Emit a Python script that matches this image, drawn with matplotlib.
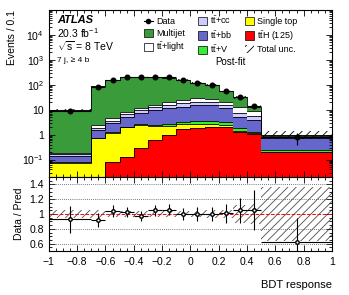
import numpy as np
import matplotlib
matplotlib.use("Agg")
import matplotlib.pyplot as plt
from matplotlib.patches import Patch
from matplotlib.lines import Line2D
from matplotlib.ticker import FixedLocator, MultipleLocator, LogLocator, NullFormatter

plt.rcParams['font.family'] = ['Liberation Sans', 'DejaVu Sans']
plt.rcParams['mathtext.fontset'] = 'custom'
plt.rcParams['mathtext.rm'] = 'Liberation Sans'
plt.rcParams['mathtext.it'] = 'Liberation Sans:italic'
plt.rcParams['mathtext.bf'] = 'Liberation Sans:bold'
plt.rcParams['mathtext.default'] = 'regular'
plt.rcParams['hatch.linewidth'] = 0.6

# BDT bins (events normalised per 0.1)
EDGES = [-1.0, -0.7, -0.6, -0.5, -0.4, -0.3, -0.2, -0.1, 0.0, 0.1, 0.2, 0.3, 0.4, 0.5, 1.0]

# stacked backgrounds, bottom to top
TTH      = [0.005, 0.01, 0.08, 0.13, 0.3, 0.6, 0.95, 1.7, 1.85, 2.0, 2.0, 1.3, 1.1, 0.2]
SINGLE_T = [0.07, 0.71, 1.12, 1.87, 2.2, 1.7, 1.35, 1.0, 0.95, 0.8, 0.4, 0.15, 0.05, 0.005]
TTV      = [0.005, 0.02, 0.05, 0.1, 0.1, 0.15, 0.3, 0.4, 0.6, 0.6, 0.8, 0.35, 0.1, 0.035]
TTBB     = [0.06, 0.76, 1.6, 3.1, 4.6, 7.25, 9.4, 10.1, 12.1, 11.6, 8.2, 3.4, 2.65, 0.5]
TTCC     = [0.02, 0.3, 0.75, 1.3, 2.3, 2.8, 3.5, 4.8, 5.5, 5.0, 3.6, 2.3, 1.6, 0.06]
TTLIGHT  = [0.02, 0.6, 1.1, 1.8, 2.5, 3.0, 4.5, 6.6, 8.0, 8.0, 5.0, 5.5, 3.0, 0.08]
MULTIJET = [9.6, 84.6, 146, 189, 196, 188, 171, 133, 93, 71, 37, 18, 4.8, 0.12]

DATA     = [9.1, 80, 158, 203, 203, 214, 203, 158, 122, 99, 58, 33, 14, 0.8]
DATA_ERR = [1.75, 9.0, 12.6, 14.2, 14.2, 14.6, 14.2, 12.6, 11.0, 10.0, 7.6, 5.7, 3.7, 0.4]

RATIO     = [0.93, 0.92, 1.045, 1.03, 0.975, 1.05, 1.06, 1.0, 1.0, 1.0, 1.01, 1.05, 1.05, 0.62]
RATIO_ERR = [0.18, 0.10, 0.08, 0.07, 0.07, 0.07, 0.07, 0.08, 0.09, 0.10, 0.13, 0.17, 0.27, 0.33]
TOT_UNC   = [0.05, 0.05, 0.04, 0.04, 0.04, 0.04, 0.04, 0.04, 0.04, 0.05, 0.06, 0.12, 0.13, 0.36]

edges = np.array(EDGES)
centers = 0.5 * (edges[1:] + edges[:-1])
widths = edges[1:] - edges[:-1]

components = [
    (TTH, "#ff0000", r"$t\bar{t}H$ (125)"),
    (SINGLE_T, "#ffff00", "Single top"),
    (TTV, "#33ee33", r"$t\bar{t}$+V"),
    (TTBB, "#6666cc", r"$t\bar{t}$+bb"),
    (TTCC, "#ccccff", r"$t\bar{t}$+cc"),
    (TTLIGHT, "#ffffff", r"$t\bar{t}$+light"),
    (MULTIJET, "#3a9b3a", "Multijet"),
]

fig = plt.figure(figsize=(3.49, 2.95), dpi=100)
ax = fig.add_axes([0.140, 0.400, 0.811, 0.566])
rax = fig.add_axes([0.140, 0.149, 0.811, 0.251])

cum = np.full(len(centers), 1e-3)
for vals, color, _ in components:
    top = cum + np.array(vals)
    ax.stairs(top, edges, baseline=cum, fill=True, color=color, lw=0)
    ax.stairs(top, edges, baseline=None, color="k", lw=0.6)
    cum = top
total = cum

unc = np.array(TOT_UNC)
ax.bar(centers, 2 * unc * total, bottom=total * (1 - unc), width=widths,
       fill=False, hatch="////", lw=0, edgecolor="k")
ax.errorbar(centers, DATA, yerr=DATA_ERR, xerr=widths / 2, fmt="o", color="k",
            ms=3.3, lw=0.8, capsize=0, zorder=5)

ax.set_yscale("log")
ax.set_xlim(-1, 1)
ax.set_ylim(0.02, 1e5)
ax.yaxis.set_major_locator(FixedLocator([0.1, 1, 10, 100, 1e3, 1e4]))
ax.set_yticklabels([r"$10^{-1}$", "1", "10", r"$10^{2}$", r"$10^{3}$", r"$10^{4}$"])
ax.yaxis.set_minor_locator(LogLocator(base=10, subs=np.arange(2, 10), numticks=20))
ax.yaxis.set_minor_formatter(NullFormatter())
ax.xaxis.set_major_locator(MultipleLocator(0.2))
ax.xaxis.set_minor_locator(MultipleLocator(0.05))
ax.tick_params(labelbottom=False)
ax.set_ylabel("Events / 0.1", loc="top", fontsize=7.5)

ax.text(0.028, 0.94, "ATLAS", transform=ax.transAxes, fontsize=8,
        fontweight="bold", fontstyle="italic", va="center")
ax.text(0.028, 0.862, r"20.3 fb$^{-1}$", transform=ax.transAxes, fontsize=7.5, va="center")
ax.text(0.028, 0.784, r"$\sqrt{s}$ = 8 TeV", transform=ax.transAxes, fontsize=7.5, va="center")
ax.text(0.028, 0.70, "7 j, \u2265 4 b", transform=ax.transAxes, fontsize=6, va="center")
ax.text(0.64, 0.69, "Post-fit", transform=ax.transAxes, fontsize=7, ha="center", va="center")

handles = [
    Line2D([0], [0], marker="o", color="k", ms=3, lw=0.8),
    Patch(facecolor="#3a9b3a", edgecolor="k", lw=0.5),
    Patch(facecolor="#ffffff", edgecolor="k", lw=0.5),
    Patch(facecolor="#ccccff", edgecolor="k", lw=0.5),
    Patch(facecolor="#6666cc", edgecolor="k", lw=0.5),
    Patch(facecolor="#33ee33", edgecolor="k", lw=0.5),
    Patch(facecolor="#ffff00", edgecolor="k", lw=0.5),
    Patch(facecolor="#ff0000", edgecolor="k", lw=0.5),
    Patch(facecolor="none", edgecolor="k", hatch="////", lw=0),
]
labels = ["Data", "Multijet", r"$t\bar{t}$+light",
          r"$t\bar{t}$+cc", r"$t\bar{t}$+bb", r"$t\bar{t}$+V",
          "Single top", r"$t\bar{t}H$ (125)", "Total unc."]
ax.legend(handles, labels, ncol=3, loc="upper left", bbox_to_anchor=(0.322, 0.995),
          frameon=False, fontsize=6.5, handlelength=1.0, handleheight=1.0,
          handletextpad=0.35, columnspacing=1.45, labelspacing=0.3, borderaxespad=0)

# ratio panel
for yv in [0.6, 0.8, 1.2, 1.4]:
    rax.axhline(yv, color="0.3", ls=(0, (1, 1.5)), lw=0.6)
rax.bar(centers, 2 * unc, bottom=1 - unc, width=widths, fill=False,
        hatch="////", lw=0, edgecolor="0.3")
rax.axhline(1.0, color="red", ls="--", lw=0.7)
rax.errorbar(centers, RATIO, yerr=RATIO_ERR, xerr=widths / 2, fmt="o", color="k",
             mfc="white", mec="k", ms=2.5, lw=0.8, capsize=0, zorder=5)
rax.set_xlim(-1, 1)
rax.set_ylim(0.5, 1.5)
rax.set_yticks([0.6, 0.8, 1.0, 1.2, 1.4])
rax.set_yticklabels(["0.6", "0.8", "1", "1.2", "1.4"])
rax.yaxis.set_minor_locator(MultipleLocator(0.05))
rax.set_xticks(np.arange(-1, 1.01, 0.2))
rax.set_xticklabels(["\u22121", "\u22120.8", "\u22120.6", "\u22120.4", "\u22120.2", "0",
                     "0.2", "0.4", "0.6", "0.8", "1"])
rax.xaxis.set_minor_locator(MultipleLocator(0.05))
rax.set_ylabel("Data / Pred", fontsize=7.5)
rax.set_xlabel("BDT response", loc="right", fontsize=8, labelpad=10)

for a in (ax, rax):
    a.tick_params(which="both", direction="in", top=True, right=True, labelsize=7.5, width=0.6)
    a.tick_params(which="major", length=4.5)
    a.tick_params(which="minor", length=2.2)
    a.tick_params(axis="x", pad=4)
    for s in a.spines.values():
        s.set_linewidth(0.8)

fig.savefig("out.png", dpi=100)
